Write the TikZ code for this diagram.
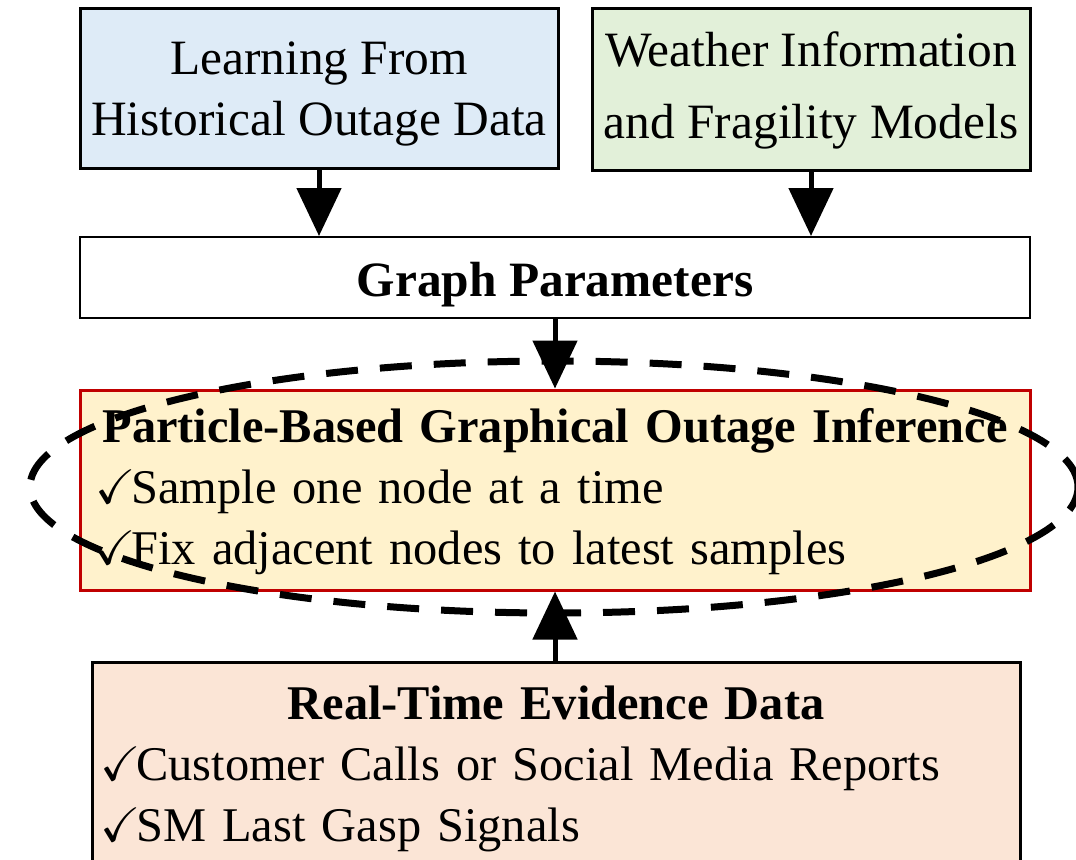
\documentclass[tikz,border=0pt]{standalone}
\usepackage{amssymb}
\usepackage{fontspec}
\setmainfont{Liberation Serif}
\usepackage{xcolor}
\usetikzlibrary{positioning, arrows.meta}
\definecolor{histblue}{HTML}{DEEBF7}
\definecolor{weathergreen}{HTML}{E2F0D9}
\definecolor{infyellow}{HTML}{FFF2CC}
\definecolor{infred}{HTML}{C00000}
\definecolor{evidpeach}{HTML}{FBE5D6}
\newcommand{\diagfont}{\fontsize{24.7}{30.5}\selectfont}
\newcommand{\listfont}{\fontsize{24.2}{30.5}\selectfont}
\newcommand{\padtop}[1]{\rule{0pt}{#1}}
\newcommand{\tick}{$\checkmark$\kern-2pt}
\tikzset{block/.style={draw=black,line width=1.5pt,inner sep=0pt,font=\diagfont},
         flow/.style={-{Triangle[width=22pt,length=24pt]},line width=2.5pt},
         ringdash/.style={line width=3.5pt,dash pattern=on 16pt off 11pt}}

\begin{document}
\begin{tikzpicture}[x=0.5pt,y=-0.5pt]
      \useasboundingbox (0,0) rectangle (1076,859);
      \clip (0,0) rectangle (1076,859);

      \node[block,fill=histblue,minimum width=239pt,minimum height=80pt,align=center] (hist) at (319,88) {\padtop{22pt}Learning From\\Historical Outage Data};
      \node[block,fill=weathergreen,minimum width=219pt,minimum height=81pt,align=center] (weather) at (811,89) {\padtop{19pt}Weather Information\\[5.5pt]and Fragility Models};
      \node[block,line width=1pt,fill=white,minimum width=475pt,minimum height=40.5pt] (params) at (555,277.5) {\padtop{24pt}\textbf{Graph Parameters}};
      \node[block,font=\listfont,draw=infred,fill=infyellow,minimum width=475pt,minimum height=100pt,text width=460pt,align=left] (infer) at (555,490)
        {\padtop{19pt}\makebox[\linewidth]{\textbf{Particle-Based Graphical Outage Inference}}\\\tick Sample one node at a time\\\tick Fix adjacent nodes to latest samples};
      \node[block,font=\listfont,fill=evidpeach,minimum width=464pt,minimum height=100pt,text width=456pt,align=left] (evid) at (556,762)
        {\padtop{23.5pt}\makebox[\linewidth]{\textbf{Real-Time Evidence Data}}\\\tick Customer Calls or Social Media Reports\\\tick SM Last Gasp Signals};

      \draw[flow] (hist.south) -- (hist.south |- params.north);
      \draw[flow] (weather.south) -- (weather.south |- params.north);
      \draw[flow] (params.south) -- (infer.north);
      \draw[flow] (infer.south |- evid.north) -- (infer.south);

      \draw[ringdash] (554,487) ellipse [x radius=262pt, y radius=63pt];
  \end{tikzpicture}
\end{document}
